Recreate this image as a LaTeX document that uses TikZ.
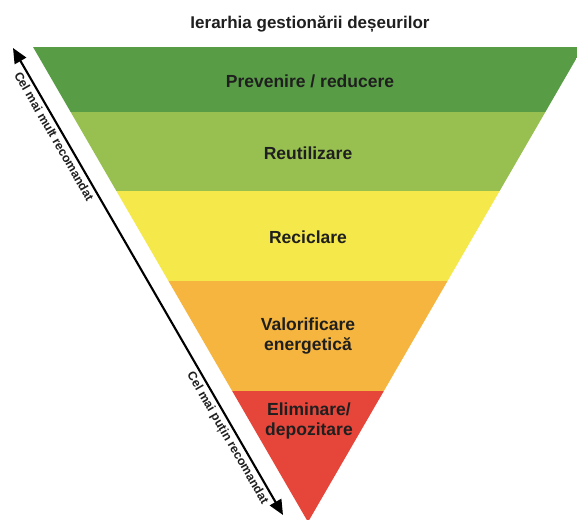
\documentclass[tikz,border=0pt]{standalone}
\usepackage{fontspec}
\setmainfont{Liberation Sans}
\usetikzlibrary{arrows.meta,positioning}

\definecolor{darkgreen}{HTML}{589D45}
\definecolor{lightgreen}{HTML}{97C050}
\definecolor{lemon}{HTML}{F4E84A}
\definecolor{amber}{HTML}{F5B53E}
\definecolor{brickred}{HTML}{E6453A}

\begin{document}
\begin{tikzpicture}[x=1pt,y=-1pt]
\tikzstyle{level}=[align=center, text=black!88, inner sep=0pt,
	font=\bfseries\fontsize{17.5}{20}\selectfont,
]
\tikzstyle{side}=[sloped, below, inner sep=3pt, text=black!88,
	font=\bfseries\fontsize{12.3}{14}\selectfont,
]
\tikzstyle{biarrow}=[line width=2.1pt,
	{Triangle[length=15pt,width=13pt]}-{Triangle[length=15pt,width=13pt]},
]
\clip (0,0) rectangle (577,519);
\fill[white] (0,0) rectangle (577,519);

% bands of the inverted triangle
\begin{scope}
\clip (33,47) -- (583,47) -- (308,522) -- cycle;
\fill[darkgreen] (0,47) rectangle (600,112);
\fill[lightgreen] (0,112) rectangle (600,191);
\fill[lemon] (0,191) rectangle (600,281);
\fill[amber] (0,281) rectangle (600,391);
\fill[brickred] (0,391) rectangle (600,530);
\end{scope}

\node[level,anchor=base,font=\bfseries\fontsize{17}{20}\selectfont] (title) at (310,28.5) {Ierarhia gestionării deșeurilor};
\node[level,anchor=base] (prev) at (310,87) {Prevenire / reducere};
\node[level,anchor=base] (reut) at (308,159.5) {Reutilizare};
\node[level,anchor=base] (recic) at (308,243) {Reciclare};
\node[level] (valor) at (308,336.5) {Valorificare\\energetică};
\node[level] (elim) at (309,421) {Eliminare/\\depozitare};

\coordinate (most) at (13,48);
\coordinate (least) at (283,515);
\draw[biarrow] (most) -- node[side,pos=0.18] (mostlab) {Cel mai mult recomandat}
	node[side,pos=0.825] (leastlab) {Cel mai puțin recomandat} (least);

\end{tikzpicture}
\end{document}
